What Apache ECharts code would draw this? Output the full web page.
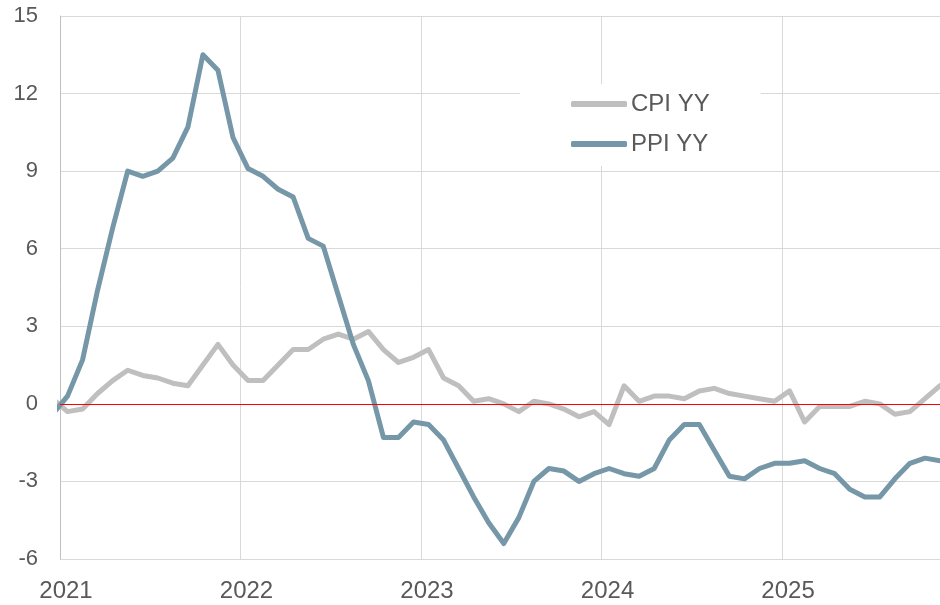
<!DOCTYPE html>
<html>
<head>
<meta charset="utf-8">
<script src="https://cdn.jsdelivr.net/npm/echarts@6/dist/echarts.min.js"></script>
<style>
html,body{margin:0;padding:0;background:#fff;}
#chart{width:940px;height:605px;}
</style>
</head>
<body>
<div id="chart"></div>
<script>
// Monthly observations (mid-month), Dec 2020 .. Nov 2025
const months = [
 '2020-12',
 '2021-01','2021-02','2021-03','2021-04','2021-05','2021-06','2021-07','2021-08','2021-09','2021-10','2021-11','2021-12',
 '2022-01','2022-02','2022-03','2022-04','2022-05','2022-06','2022-07','2022-08','2022-09','2022-10','2022-11','2022-12',
 '2023-01','2023-02','2023-03','2023-04','2023-05','2023-06','2023-07','2023-08','2023-09','2023-10','2023-11','2023-12',
 '2024-01','2024-02','2024-03','2024-04','2024-05','2024-06','2024-07','2024-08','2024-09','2024-10','2024-11','2024-12',
 '2025-01','2025-02','2025-03','2025-04','2025-05','2025-06','2025-07','2025-08','2025-09','2025-10','2025-11'
];
const cpiYY = [
 0.2,
 -0.3,-0.2,0.4,0.9,1.3,1.1,1.0,0.8,0.7,1.5,2.3,1.5,
 0.9,0.9,1.5,2.1,2.1,2.5,2.7,2.5,2.8,2.1,1.6,1.8,
 2.1,1.0,0.7,0.1,0.2,0.0,-0.3,0.1,0.0,-0.2,-0.5,-0.3,
 -0.8,0.7,0.1,0.3,0.3,0.2,0.5,0.6,0.4,0.3,0.2,0.1,
 0.5,-0.7,-0.1,-0.1,-0.1,0.1,0.0,-0.4,-0.3,0.2,0.7
];
const ppiYY = [
 -0.4,
 0.3,1.7,4.4,6.8,9.0,8.8,9.0,9.5,10.7,13.5,12.9,10.3,
 9.1,8.8,8.3,8.0,6.4,6.1,4.2,2.3,0.9,-1.3,-1.3,-0.7,
 -0.8,-1.4,-2.5,-3.6,-4.6,-5.4,-4.4,-3.0,-2.5,-2.6,-3.0,-2.7,
 -2.5,-2.7,-2.8,-2.5,-1.4,-0.8,-0.8,-1.8,-2.8,-2.9,-2.5,-2.3,
 -2.3,-2.2,-2.5,-2.7,-3.3,-3.6,-3.6,-2.9,-2.3,-2.1,-2.2
];
const yTicks = {min: -6, max: 15, interval: 3};
const startYear = 2021;

function monthPos(m){
  const [y, mo] = m.split('-').map(Number);
  return (y - startYear) * 12 + (mo - 1) + 0.5;
}
const xs = months.map(monthPos);
const cpiData = xs.map((x, i) => [x, cpiYY[i]]);
const ppiData = xs.map((x, i) => [x, ppiYY[i]]);
const xMax = xs[xs.length - 1];

const font = '"Liberation Sans", Arial, sans-serif';
const txt = '#595959';
const grid = '#D9D9D9';

const chart = echarts.init(document.getElementById('chart'), null, {renderer: 'canvas'});
chart.setOption({
  animation: false,
  backgroundColor: '#fff',
  grid: {left: 60, right: 0, top: 16, bottom: 46, containLabel: false},
  legend: {
    orient: 'vertical',
    left: 520, top: 84,
    padding: [6, 51, 8, 51],
    backgroundColor: '#fff',
    itemWidth: 56, itemHeight: 6,
    itemGap: 12,
    icon: 'roundRect',
    data: ['CPI YY', 'PPI YY'],
    textStyle: {fontFamily: font, fontSize: 24, lineHeight: 28, color: txt, padding: [0,0,0,-1]}
  },
  xAxis: {
    type: 'value', min: 0, max: xMax, interval: 12,
    axisLine: {show: true, lineStyle: {color: '#BFBFBF', width: 1}},
    axisTick: {show: false},
    splitLine: {show: true, lineStyle: {color: grid, width: 1}},
    axisLabel: {
      fontFamily: font, fontSize: 24, color: txt, margin: 20, padding: [0,0,0,12],
      showMaxLabel: false,
      formatter: v => (v % 12 === 0 ? String(startYear + v / 12) : '')
    }
  },
  yAxis: {
    type: 'value', min: yTicks.min, max: yTicks.max, interval: yTicks.interval,
    axisLine: {show: true, lineStyle: {color: '#BFBFBF', width: 1}},
    axisTick: {show: false},
    splitLine: {show: true, lineStyle: {color: grid, width: 1}},
    axisLabel: {fontFamily: font, fontSize: 22, color: txt, margin: 22}
  },
  series: [
    {
      name: 'zero', type: 'line', data: [], z: 1, silent: true,
      markLine: {
        silent: true, symbol: 'none', label: {show: false},
        lineStyle: {color: '#FF0000', width: 1, type: 'solid'},
        data: [{yAxis: 0}]
      }
    },
    {
      name: 'CPI YY', type: 'line', data: cpiData, showSymbol: false, symbol: 'none', z: 3,
      color: '#BFBFBF',
      lineStyle: {color: '#BFBFBF', width: 5, cap: 'round', join: 'round'}
    },
    {
      name: 'PPI YY', type: 'line', data: ppiData, showSymbol: false, symbol: 'none', z: 4,
      color: '#7697A8',
      lineStyle: {color: '#7697A8', width: 5, cap: 'round', join: 'round'}
    }
  ]
});
</script>
</body>
</html>
